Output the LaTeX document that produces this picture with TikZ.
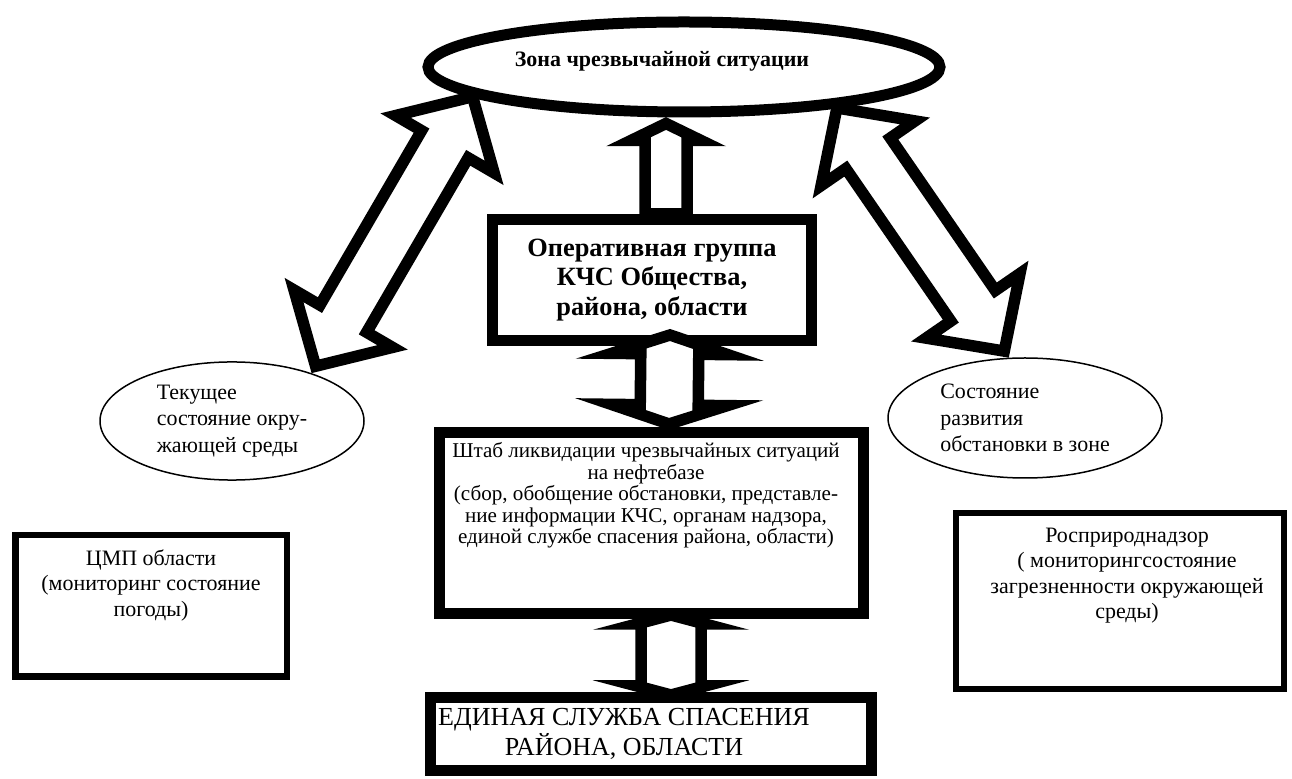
\documentclass[tikz,border=0pt]{standalone}
\usepackage{fontspec}
\setmainfont{Liberation Serif}
\usetikzlibrary{positioning}
\usetikzlibrary{calc,shapes.geometric}

\begin{document}
\begin{tikzpicture}[
  thickBox/.style={rectangle, draw, line width=2.2mm, fill=white},
  thinBox/.style={rectangle, draw, line width=1.3mm, fill=white},
  oval/.style={ellipse, draw, line width=0.3mm, align=left, font=\fontsize{12.5}{15}\selectfont},
  boxText/.style={align=center, inner sep=0pt, font=\fontsize{12.5}{14.5}\selectfont},
  blockLine/.style={draw, fill=white, line width=2.3mm, line join=miter, miter limit=12},
  % double block arrow: shaft half width, head half width, head length
  dblArrow/.style n args={3}{blockLine, to path={
    let \p1=(\tikztostart), \p2=(\tikztotarget),
        \n1={atan2(\y2-\y1,\x2-\x1)}, \n2={veclen(\x2-\x1,\y2-\y1)},
        \n3={\n2-#3} in
    (\p1) -- ($(\p1)+(\n1:#3)+({\n1+90}:#2)$)
          -- ($(\p1)+(\n1:#3)+({\n1+90}:#1)$)
          -- ($(\p1)+(\n1:\n3)+({\n1+90}:#1)$)
          -- ($(\p1)+(\n1:\n3)+({\n1+90}:#2)$)
          -- (\p2)
          -- ($(\p1)+(\n1:\n3)+({\n1-90}:#2)$)
          -- ($(\p1)+(\n1:\n3)+({\n1-90}:#1)$)
          -- ($(\p1)+(\n1:#3)+({\n1-90}:#1)$)
          -- ($(\p1)+(\n1:#3)+({\n1-90}:#2)$)
          -- cycle}},
  % single block arrow, same arguments
  sglArrow/.style n args={3}{blockLine, to path={
    let \p1=(\tikztostart), \p2=(\tikztotarget),
        \n1={atan2(\y2-\y1,\x2-\x1)}, \n2={veclen(\x2-\x1,\y2-\y1)},
        \n3={\n2-#3} in
    ($(\p1)+({\n1+90}:#1)$)
          -- ($(\p1)+(\n1:\n3)+({\n1+90}:#1)$)
          -- ($(\p1)+(\n1:\n3)+({\n1+90}:#2)$)
          -- (\p2)
          -- ($(\p1)+(\n1:\n3)+({\n1-90}:#2)$)
          -- ($(\p1)+(\n1:\n3)+({\n1-90}:#1)$)
          -- ($(\p1)+({\n1-90}:#1)$)
          -- cycle}},
]

\useasboundingbox (0,0) rectangle (25.84,15.56);

% \draw[help lines] (0,0) grid (26,16);

\node[ellipse, draw, line width=2.2mm, minimum width=10.24cm, minimum height=1.8cm,
      label={[font=\fontsize{12.5}{15}\selectfont\bfseries, xshift=-4.4mm, yshift=1.2mm]center:Зона чрезвычайной ситуации}] (zone) at (13.68,14.22) {};

\node[thickBox, minimum width=6.38cm, minimum height=2.42cm, align=center,
      font=\fontsize{15}{17}\selectfont\bfseries] (opGroup) at (13.04,9.96)
      {Оперативная группа\\КЧС Общества,\\района, области};

\node[oval, minimum width=5.28cm, minimum height=2.36cm] (envState) at (4.64,7.14)
      {Текущее\\состояние окру-\\жающей среды};
\node[oval, minimum width=5.48cm, minimum height=2.4cm] (zoneState) at (20.5,7.2)
      {Состояние\\развития\\обстановки в зоне};

\node[thickBox, minimum width=8.48cm, minimum height=3.62cm,
      label={[boxText, font=\fontsize{12}{12.3}\selectfont, anchor=north, xshift=-1mm, yshift=-3mm]north:{Штаб ликвидации чрезвычайных ситуаций\\на нефтебазе\\(сбор, обобщение обстановки, представле-\\ние информации КЧС, органам надзора,\\единой службе спасения района, области)}}] (hqBox) at (13.02,5.1) {};

\node[thinBox, minimum width=5.43cm, minimum height=2.83cm,
      label={[boxText, anchor=north, yshift=-3.4mm]north:{ЦМП области\\(мониторинг состояние\\погоды)}}] (cmpBox) at (3.02,3.44) {};

\node[thinBox, minimum width=6.56cm, minimum height=3.52cm,
      label={[boxText, anchor=north, xshift=1.4mm, yshift=-3.6mm]north:{Росприроднадзор\\( мониторингсостояние\\загрезненности окружающей\\среды)}}] (rospBox) at (22.4,3.54) {};

\node[thickBox, minimum width=8.82cm, minimum height=1.46cm,
      label={[boxText, font=\fontsize{14.8}{14.8}\selectfont, xshift=-5.4mm]center:{ЕДИНАЯ СЛУЖБА СПАСЕНИЯ\\РАЙОНА, ОБЛАСТИ}}] (rescueBox) at (13.02,0.88) {};

\draw[sglArrow={0.42cm}{0.7cm}{0.34cm}] ([xshift=2.8mm]opGroup.north) to ([xshift=-3.6mm,yshift=-1.2mm]zone.south);
\draw[dblArrow={0.54cm}{1.14cm}{1.1cm}] ([shift={(60:1.6mm)}]envState.31) to (zone.188);
\draw[dblArrow={0.54cm}{1.14cm}{1.1cm}] (zone.-15) to ([shift={(125:1.6mm)}]zoneState.105);
\draw[dblArrow={0.58cm}{1.16cm}{0.38cm}] ([xshift=3.6mm,yshift=2.2mm]opGroup.south) to ([xshift=3.6mm,yshift=0.6mm]hqBox.north);
\draw[dblArrow={0.6cm}{0.68cm}{0.18cm}] ([xshift=4mm,yshift=0.8mm]hqBox.south) to ([xshift=4mm,yshift=-0.6mm]rescueBox.north);

\end{tikzpicture}
\end{document}
